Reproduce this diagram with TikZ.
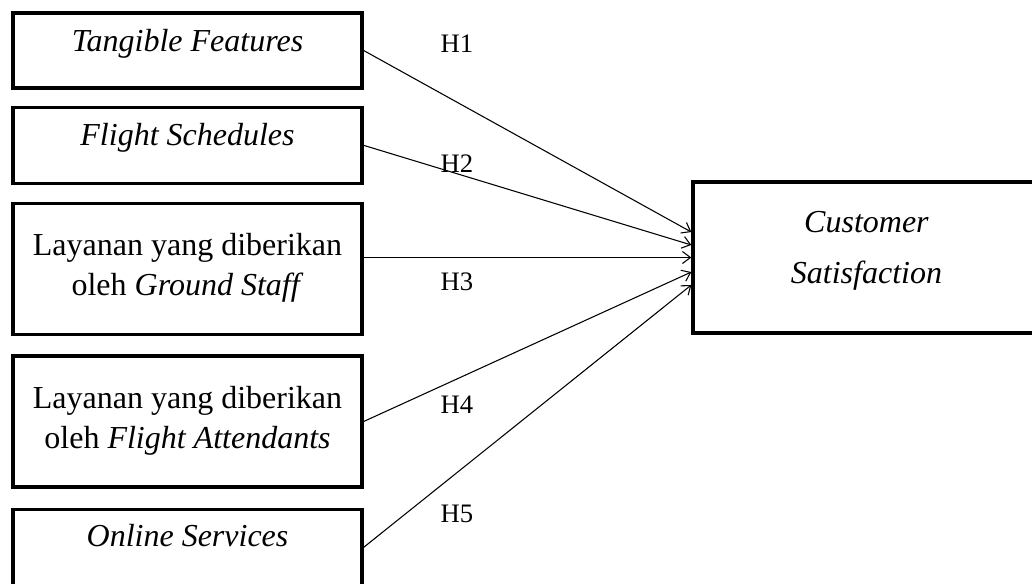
\documentclass[tikz,border=0pt]{standalone}
\usepackage{fontspec}
\setmainfont{Liberation Serif}
\usetikzlibrary{positioning, arrows.meta}
\tikzset{
    >={Straight Barb[length=6pt,width=9pt]}, % open arrow heads
    x=0.75pt, y=-0.75pt, % one unit per pixel, y going down
}
\begin{document}
\begin{tikzpicture}[
        factor/.style={draw, line width=2.5pt, minimum width=261.75pt, minimum height=57pt},
        factorTall/.style={factor, minimum height=98.25pt},
        boxText/.style={font=\fontsize{24}{30}\selectfont, align=center, inner sep=0pt},
        hypo/.style={font=\fontsize{20}{24}\selectfont, anchor=base, inner sep=0pt},
        link/.style={->, line width=0.8pt},
    ]
    \useasboundingbox (0,0) rectangle (1032,583);
    \node[factor, minimum height=56.25pt] (tf) at (187.5,50.5) {};
    \node[factor, below=12pt of tf] (fs) {};
    \node[factorTall, below=12.75pt of fs] (gs) {};
    \node[factorTall, below=13.5pt of gs] (fa) {};
    \node[factor, below=14.25pt of fa] (os) {};
    \node[factor, minimum width=260.25pt, minimum height=113.25pt] (cs) at (866.5,257.5) {};
    % texts inside the boxes
    \node[boxText, anchor=base] (tfText) at ([yshift=-1pt]tf.center) {\textit{Tangible Features}};
    \node[boxText, anchor=base] (fsText) at (fs.center) {\textit{Flight Schedules}};
    \node[boxText] (gsText) at ([yshift=0.75pt]gs.center) {Layanan yang diberikan\\oleh \textit{Ground Staff}};
    \node[boxText] (faText) at ([yshift=0.75pt]fa.center) {Layanan yang diberikan\\oleh \textit{Flight Attendants}};
    \node[boxText, anchor=base] (osText) at ([yshift=1pt]os.center) {\textit{Online Services}};
    \node[boxText, font=\fontsize{24}{38}\selectfont] (csText) at ([yshift=5pt]cs.center) {\textit{Customer}\\\textit{Satisfaction}};
    % hypothesis labels
    \node[hypo] (h1) at (457,52) {H1};
    \node[hypo] (h2) at (457,172) {H2};
    \node[hypo] (h3) at (457,290) {H3};
    \node[hypo] (h4) at (457,413) {H4};
    \node[hypo] (h5) at (457,522) {H5};
    \draw
    (tf.east) edge[link] ([yshift=19.1pt]cs.west)
    (fs.east) edge[link] ([yshift=9.4pt]cs.west)
    (gs.east |- cs.west) edge[link] (cs.west)
    (fa.east) edge[link] ([yshift=-10.9pt]cs.west)
    (os.east) edge[link] ([yshift=-20.6pt]cs.west);
\end{tikzpicture}
\end{document}
